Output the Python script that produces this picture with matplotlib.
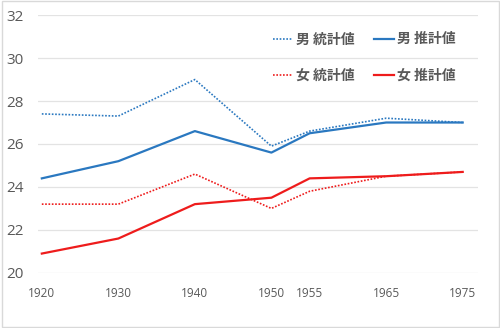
import matplotlib
matplotlib.use("Agg")
import matplotlib.pyplot as plt
from matplotlib.patches import Rectangle

plt.rcParams['font.family'] = ['Noto Sans CJK JP', 'DejaVu Sans']

years = [1920, 1930, 1940, 1950, 1955, 1965, 1975]
male_stat = [27.4, 27.3, 29.0, 25.9, 26.6, 27.2, 27.0]
male_est = [24.4, 25.2, 26.6, 25.6, 26.5, 27.0, 27.0]
female_stat = [23.2, 23.2, 24.6, 23.0, 23.8, 24.5, 24.7]
female_est = [20.9, 21.6, 23.2, 23.5, 24.4, 24.5, 24.7]
y_ticks = [20, 22, 24, 26, 28, 30, 32]

blue = "#2A78C0"
red = "#EE1C1C"
grid_c = "#E3E3E3"
text_c = "#595959"

fig = plt.figure(figsize=(5.0, 3.28), dpi=100)
fig.patches.append(Rectangle((0.003, 0.004), 0.994, 0.992, transform=fig.transFigure,
                             fill=False, edgecolor="#D9D9D9", linewidth=1.0))
ax = fig.add_axes([0.076, 0.168, 0.88, 0.786])

l1, = ax.plot(years, male_stat, color=blue, lw=1.2, ls=(0, (1, 1)), label="男 統計値")
l2, = ax.plot(years, male_est, color=blue, lw=1.6, label="男 推計値")
l3, = ax.plot(years, female_stat, color=red, lw=1.2, ls=(0, (1, 1)), label="女 統計値")
l4, = ax.plot(years, female_est, color=red, lw=1.6, label="女 推計値")

ax.set_ylim(20, 32)
ax.set_xlim(1919.5, 1977)
ax.set_yticks(y_ticks)
ax.set_xticks(years)
ax.set_xticklabels([str(y) for y in years])
ax.grid(axis='y', color=grid_c, lw=0.9)
ax.set_axisbelow(True)
for s in ax.spines.values():
    s.set_visible(False)
ax.tick_params(length=0, colors=text_c)
ax.tick_params(axis='x', pad=10, labelsize=8.5)
ax.tick_params(axis='y', pad=10, labelsize=11)
for lab in ax.get_xticklabels() + ax.get_yticklabels():
    lab.set_family(['Open Sans', 'DejaVu Sans'])

leg = fig.legend(handles=[l1, l3, l2, l4], ncol=2, loc='upper left',
                 bbox_to_anchor=(0.535, 0.918), frameon=False,
                 prop={'size': 10, 'weight': 'bold'},
                 handlelength=1.45, handletextpad=0.2, columnspacing=1.4,
                 labelspacing=1.6, borderaxespad=0)
for t in leg.get_texts():
    t.set_color(text_c)

fig.savefig("out.png", dpi=100)
